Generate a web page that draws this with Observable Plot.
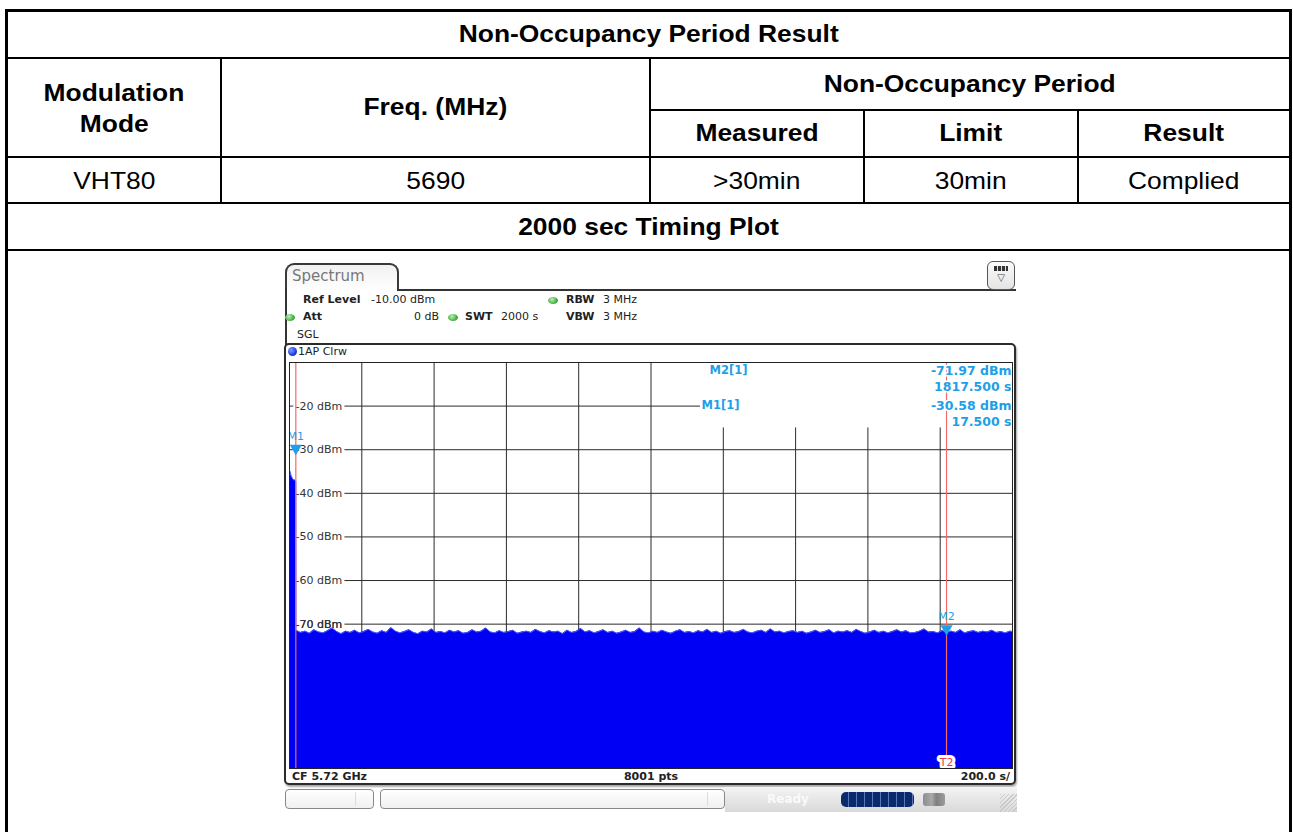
<!DOCTYPE html>
<html><head><meta charset="utf-8">
<script src="https://cdn.jsdelivr.net/npm/d3@7"></script>
<script src="https://cdn.jsdelivr.net/npm/@observablehq/plot@0.6"></script>
<style>
html,body{margin:0;padding:0;background:#fff;width:1293px;height:832px;overflow:hidden;}
#page{position:relative;width:1293px;height:832px;font-family:"Liberation Sans",Arial,sans-serif;overflow:hidden;}
.sx{display:inline-block;transform:scaleX(1.1);}
</style></head>
<body><div id="page"></div>
<script>
// ---------- table content ----------
const tableTitle = "Non-Occupancy Period Result";
const headModulation = ["Modulation", "Mode"];
const headFreq = "Freq. (MHz)";
const headPeriod = "Non-Occupancy Period";
const headSub = ["Measured", "Limit", "Result"];
const rowValues = ["VHT80", "5690", ">30min", "30min", "Complied"];
const plotTitle = "2000 sec Timing Plot";

// ---------- analyzer settings ----------
const refLevel = -10;          // dBm (top of grid)
const yBottom = -103.1;        // dBm (bottom of visible grid)
const sweepTime = 2000;        // s
const attDb = 0;
const rbw = "3 MHz", vbw = "3 MHz";
const centerFreq = "CF 5.72 GHz";
const sweepPoints = 8001;
const timePerDiv = 200.0;

// ---------- trace ----------
const burstTimes  = [0, 2, 4, 6, 8, 10, 12, 14, 16, 17.5];
const burstLevels = [-35.4, -35.0, -35.8, -36.2, -36.5, -36.8, -37.0, -36.9, -37.1, -37.2];
const noiseStart = 18, noiseStep = 12.5;
const noiseLevels = [
 -71.4,-71.9,-71.6,-72.1,-71.3,-71.8,-72.0,-71.5,-70.9,-71.7,-72.2,-71.6,-71.9,-71.4,-72.0,-71.7,
 -71.2,-71.8,-72.1,-71.5,-71.9,-70.8,-71.6,-72.0,-71.7,-71.3,-71.9,-72.2,-71.6,-71.8,-71.1,-71.9,
 -71.7,-72.0,-71.4,-71.8,-71.5,-72.1,-71.9,-71.3,-71.8,-71.6,-70.9,-71.8,-72.0,-71.5,-71.9,-71.7,
 -71.4,-72.1,-71.8,-71.6,-71.9,-71.2,-71.7,-72.0,-71.5,-71.8,-71.6,-72.2,-71.4,-71.9,-71.7,-71.0,
 -71.8,-71.5,-72.0,-71.7,-71.3,-71.9,-71.6,-72.1,-71.8,-71.4,-71.9,-71.7,-70.9,-71.8,-72.0,-71.6,
 -71.9,-71.4,-71.8,-72.1,-71.6,-71.3,-71.9,-71.7,-72.0,-71.5,-71.8,-71.2,-71.9,-71.6,-72.1,-71.7,
 -71.5,-71.9,-71.7,-71.2,-71.8,-72.0,-71.6,-71.4,-71.9,-71.1,-71.8,-71.6,-72.0,-71.7,-71.5,-71.9,
 -71.6,-72.1,-71.8,-71.4,-71.9,-71.7,-71.3,-72.0,-71.6,-71.8,-71.5,-71.9,-71.2,-71.7,-72.1,-71.8,
 -71.4,-71.9,-71.6,-72.0,-71.7,-71.3,-71.8,-71.5,-72.0,-71.9,-71.6,-71.1,-71.8,-71.7,-72.0,-71.5,
 -71.8,-71.6,-71.9,-71.3,-72.0,-71.7,-71.5,-71.9,-71.6,-71.8,-71.4,-71.9,-71.7,-72.0,-71.6,-71.8
];
const markers = [
  {id: "M2", t: 1817.5, level: -71.97, line: "T2"},
  {id: "M1", t: 17.5,   level: -30.58, line: "T1"}
];
const xGrid = [200, 400, 600, 800, 1000, 1200, 1400, 1600, 1800];
const yGrid = [-20, -30, -40, -50, -60, -70, -80, -90, -100];
const yLabels = [-20, -30, -40, -50, -60, -70];

const trace = burstTimes.map((t, i) => ({t, level: burstLevels[i]}))
  .concat(noiseLevels.map((v, i) => ({t: noiseStart + i * noiseStep, level: v})));

// ---------- helpers ----------
const page = document.getElementById("page");
function add(css, html) {
  const d = document.createElement("div");
  d.style.cssText = "position:absolute;" + css;
  if (html != null) d.innerHTML = html;
  page.appendChild(d);
  return d;
}
function line(x, y, w, h) { add(`left:${x}px;top:${y}px;width:${w}px;height:${h}px;background:#000;`); }
function cell(x, y, w, h, lines, bold) {
  const html = [].concat(lines).map(s => `<span class="sx">${s.replace(/>/g, "&gt;")}</span>`).join("<br>");
  add(`left:${x}px;top:${y}px;width:${w}px;height:${h}px;display:flex;align-items:center;justify-content:center;text-align:center;font-family:'Liberation Sans',Arial,sans-serif;font-size:24px;line-height:31px;color:#000;font-weight:${bold ? "bold" : "normal"};`, `<div>${html}</div>`);
}
function txt(x, y, s, o = {}) {
  const a = o.anchor || "start";
  const pos = a === "start" ? `left:${x}px;` : a === "end" ? `right:${1293 - x}px;` : `left:${x}px;transform:translateX(-50%);`;
  const d = add(`top:${y - 7}px;height:14px;line-height:14px;font-family:'DejaVu Sans',Verdana,sans-serif;font-size:${o.size || 11}px;font-weight:${o.bold ? "bold" : "normal"};color:${o.color || "#222"};white-space:nowrap;` + pos);
  d.textContent = s;
  return d;
}
function dot(cx, cy, color, w = 10, h = 7) {
  add(`left:${cx - w / 2}px;top:${cy - h / 2}px;width:${w}px;height:${h}px;border-radius:50%;background:radial-gradient(circle at 40% 35%, #b9f0b0, ${color} 70%);`);
}

// ---------- table ----------
add("left:5px;top:9px;width:1287px;height:900px;border:3px solid #000;box-sizing:border-box;");
line(5, 57, 1287, 2);
line(650, 109, 642, 2);
line(5, 156, 1287, 2);
line(5, 202, 1287, 2);
line(5, 249, 1287, 2);
line(220, 58, 2, 145);
line(649, 58, 2, 145);
line(863, 110, 2, 93);
line(1077, 110, 2, 93);

cell(8, 11, 1281, 45, tableTitle, true);
cell(8, 59, 212, 97, headModulation, true);
cell(222, 58, 427, 97, headFreq, true);
cell(651, 58, 638, 50, headPeriod, true);
const subX = [651, 865, 1079], subW = [212, 212, 210];
headSub.forEach((s, i) => cell(subX[i], 110, subW[i], 45, s, true));
const rowX = [8, 222, 651, 865, 1079], rowW = [212, 427, 212, 212, 210];
rowValues.forEach((s, i) => cell(rowX[i], 158, rowW[i], 44, s, false));
cell(8, 204, 1281, 45, plotTitle, true);

// ---------- analyzer screenshot frame ----------
add("left:285px;top:263px;width:114px;height:28px;border:2px solid #3a3a3a;border-bottom:none;border-radius:9px 9px 0 0;background:linear-gradient(#f2f2f2,#ffffff);box-sizing:border-box;");
txt(292, 276, "Spectrum", {size: 15, color: "#777"});
add("left:397px;top:289px;width:619px;height:2px;background:#333;");
add("left:285px;top:289px;width:2px;height:56px;background:#333;");
add("left:987px;top:261px;width:28px;height:29px;border:1.5px solid #555;border-radius:6px;background:linear-gradient(#fafafa,#e4e4e4);box-sizing:border-box;");
add("left:994px;top:266px;width:14px;height:5px;background:repeating-linear-gradient(90deg,#333 0 3px,#ddd 3px 4px);");
add("left:994px;top:272px;width:14px;height:12px;font:10px 'DejaVu Sans';color:#444;text-align:center;line-height:12px;", "\u25BD");

txt(303, 300, "Ref Level", {bold: true});
txt(371, 300, `${refLevel.toFixed(2)} dBm`);
dot(553, 300, "#35a635");
txt(566, 300, "RBW", {bold: true});
txt(603, 300, rbw);
dot(290, 317, "#35a635");
txt(303, 317, "Att", {bold: true});
txt(439, 317, `${attDb} dB`, {anchor: "end"});
dot(453, 317, "#35a635");
txt(465, 317, "SWT", {bold: true});
txt(501, 317, `${sweepTime} s`);
txt(566, 317, "VBW", {bold: true});
txt(603, 317, vbw);
txt(297, 335, "SGL");

// plot box
add("left:284px;top:343px;width:732px;height:442px;border:2px solid #2b2b2b;border-radius:5px;box-sizing:border-box;box-shadow:1px 2px 2px rgba(0,0,0,0.35);background:#fff;");
add("left:288px;top:347px;width:9px;height:9px;border-radius:50%;background:radial-gradient(circle at 35% 35%, #7f9bff, #1230d0 70%);");
txt(298, 352, "1AP Clrw");
txt(292, 777, centerFreq, {bold: true});
txt(651, 777, `${sweepPoints} pts`, {bold: true, anchor: "middle"});
txt(1010, 777, `${timePerDiv.toFixed(1)} s/`, {bold: true, anchor: "end"});

// footer
add("left:725px;top:787px;width:292px;height:25px;background:linear-gradient(#f4f4f4,#d9d9d9);");
add("left:285px;top:789px;width:89px;height:20px;border:1px solid #888;border-radius:4px;box-sizing:border-box;background:linear-gradient(#fff,#f0f0f0);");
add("left:355px;top:792px;width:1px;height:14px;background:#ddd;");
add("left:380px;top:789px;width:345px;height:20px;border:1px solid #888;border-radius:4px;box-sizing:border-box;background:linear-gradient(#fff,#f0f0f0);");
add("left:707px;top:792px;width:1px;height:14px;background:#ddd;");
txt(767, 799, "Ready", {bold: true, color: "#fafafa", size: 12});
add("left:841px;top:792px;width:73px;height:15px;border-radius:5px;background:repeating-linear-gradient(90deg,#0a2a6e 0 7px,#5a78b8 7px 8px);");
add("left:923px;top:793px;width:22px;height:13px;border-radius:3px;background:linear-gradient(90deg,#777,#999 40%,#666 60%,#888);opacity:0.8;");
add("left:1000px;top:794px;width:17px;height:18px;background:repeating-linear-gradient(135deg,#c8c8c8 0 1px,transparent 1px 3px);");

// ---------- the plot ----------
const blueText = "#1e9fe8";
const chart = Plot.plot({
  width: 723, height: 406, margin: 0,
  x: {domain: [0, sweepTime], axis: null},
  y: {domain: [yBottom, refLevel], axis: null},
  style: {background: "transparent", overflow: "visible", fontFamily: "'DejaVu Sans', Verdana, sans-serif"},
  marks: [
    Plot.ruleX(xGrid, {stroke: "#2b2b2b", strokeWidth: 1}),
    Plot.ruleY(yGrid, {stroke: "#2b2b2b", strokeWidth: 1}),
    Plot.rect([0], {x1: 1137, x2: sweepTime, y1: refLevel, y2: -25, fill: "white"}),
    Plot.text(yLabels, {x: 0, y: d => d, text: d => `${d} dBm`, textAnchor: "start", dx: 6, fill: "#333", fontSize: 11, stroke: "white", strokeWidth: 6, strokeLinejoin: "round", paintOrder: "stroke"}),
    Plot.areaY(trace, {x: "t", y1: yBottom, y2: "level", fill: "#0000f4", clip: true}),
    Plot.line(trace, {x: "t", y: "level", stroke: "#4c5cff", strokeWidth: 1, clip: true}),
    Plot.text(yLabels.filter(d => d === -70), {x: 0, y: d => d, text: d => `${d} dBm`, textAnchor: "start", dx: 6, fill: "#333", fontSize: 11}),
    Plot.ruleX(markers, {x: "t", stroke: "#f26a6a", strokeWidth: 1.2}),
    Plot.text(markers.filter(m => m.line === "T2"), {x: "t", frameAnchor: "bottom", lineAnchor: "middle", text: "line", dy: -6, fill: "#f03c3c", fontSize: 11, stroke: "white", strokeWidth: 6, paintOrder: "stroke"}),
    Plot.dot(markers, {x: "t", y: "level", symbol: "triangle", rotate: 180, r: 4.5, fill: blueText, dy: -4}),
    Plot.text(markers, {x: "t", y: "level", text: "id", dy: -16, fill: blueText, fontSize: 11, clip: true}),
    ...markers.flatMap((m, i) => [
      Plot.text([m], {frameAnchor: "top-left", lineAnchor: "middle", dx: i === 0 ? 420 : 412, dy: 8 + i * 35, text: d => `${d.id}[1]`, textAnchor: "start", fill: blueText, fontSize: 11.5, fontWeight: "bold"}),
      Plot.text([m], {frameAnchor: "top-right", lineAnchor: "middle", dx: -1, dy: 8 + i * 35, text: d => `${d.level.toFixed(2)} dBm`, textAnchor: "end", fill: blueText, fontSize: 12.5, fontWeight: "bold", stroke: "white", strokeWidth: 3, paintOrder: "stroke"}),
      Plot.text([m], {frameAnchor: "top-right", lineAnchor: "middle", dx: -1, dy: 24 + i * 35, text: d => `${d.t.toFixed(3)} s`, textAnchor: "end", fill: blueText, fontSize: 12.5, fontWeight: "bold", stroke: "white", strokeWidth: 3, paintOrder: "stroke"})
    ]),
    Plot.frame({stroke: "#222"})
  ]
});
const holder = add("left:289px;top:362px;width:723px;height:406px;");
holder.appendChild(chart);
</script>
</body></html>
